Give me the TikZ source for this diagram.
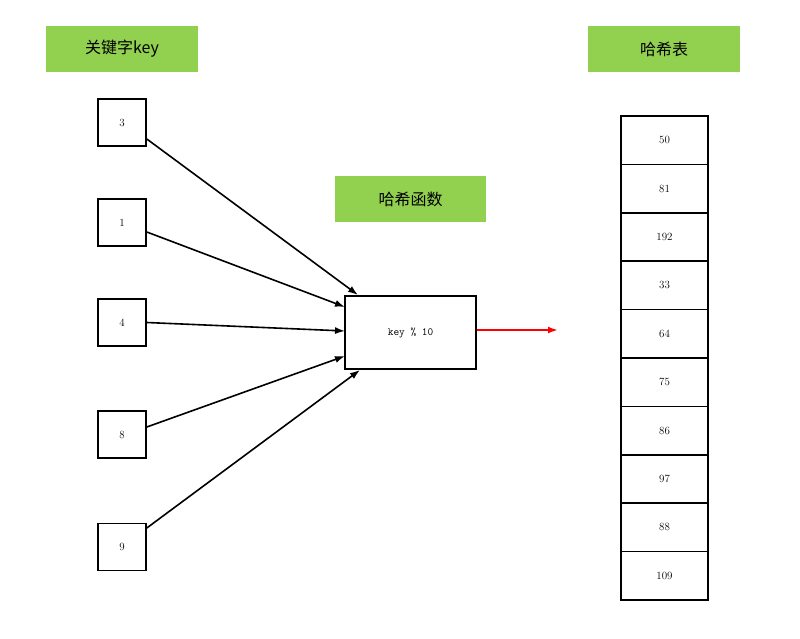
\documentclass[tikz,border=0pt]{standalone}
\usepackage{fontspec}
\newfontfamily\cjk{Noto Sans CJK SC}
\usetikzlibrary{arrows.meta}
\definecolor{lg}{HTML}{92D050}
\begin{document}
\begin{tikzpicture}[x=1pt,y=-1pt,
 lab/.style={fill=lg,minimum width=152pt,minimum height=46pt,font=\cjk\fontsize{16}{18}\selectfont,inner sep=0},
 key/.style={draw,line width=1.6pt,minimum width=48pt,minimum height=47pt,font=\fontsize{11}{12}\selectfont,inner sep=0},
 cell/.style={draw,line width=1.6pt,minimum width=87pt,minimum height=48.4pt,font=\fontsize{11}{12}\selectfont,inner sep=0},
 ar/.style={line width=1.6pt,-{Latex[length=10pt,width=7pt]}}]
\useasboundingbox (0,0) rectangle (800,639);
\node[lab] (l1) at (122,49) {关键字key};
\node[lab] (l2) at (664,49) {哈希表};
\node[lab,minimum width=151pt] (l3) at (410.5,199) {哈希函数};
\node[key] (k3) at (122,122.5) {3};
\node[key] (k1) at (122,222.5) {1};
\node[key] (k4) at (122,322.5) {4};
\node[key] (k8) at (122,434.5) {8};
\node[key] (k9) at (122,547) {9};
\node[draw,line width=1.6pt,minimum width=131pt,minimum height=73pt,font=\ttfamily\fontsize{11}{12}\selectfont] (f) at (410.5,332.5) {key \% 10};
\coordinate (e) at (558,330);
\draw[ar,red,line width=2pt] (f.east|-e) -- (e);
\draw[ar] (k3.east|-0,139) -- (358,295);
\draw[ar] (k1.east|-0,232) -- (345,307);
\draw[ar] (k4.east) -- (345,331);
\draw[ar] (k8.east|-0,427) -- (345,356);
\draw[ar] (k9.east|-0,528) -- (360,370);
\foreach \v [count=\i] in {50,81,192,33,64,75,86,97,88,109}
 \node[cell] (c\i) at (664.5,116+48.4*\i-24.2) {\v};
\end{tikzpicture}
\end{document}
